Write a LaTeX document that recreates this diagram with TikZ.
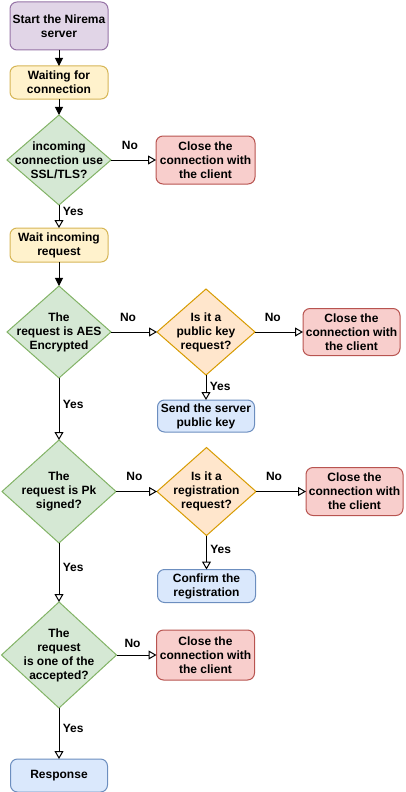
\documentclass[tikz,border=0pt]{standalone}
\usepackage{fontspec}
\setmainfont{Liberation Sans}
\usetikzlibrary{shapes.geometric,positioning,arrows.meta}

\definecolor{purplefill}{HTML}{E1D5E7}\definecolor{purpleline}{HTML}{9673A6}
\definecolor{yellowfill}{HTML}{FFF2CC}\definecolor{yellowline}{HTML}{D6B656}
\definecolor{greenfill}{HTML}{D5E8D4}\definecolor{greenline}{HTML}{82B366}
\definecolor{redfill}{HTML}{F8CECC}\definecolor{redline}{HTML}{B85450}
\definecolor{orangefill}{HTML}{FFE6CC}\definecolor{orangeline}{HTML}{D79B00}
\definecolor{bluefill}{HTML}{DAE8FC}\definecolor{blueline}{HTML}{6C8EBF}

\begin{document}
\begin{tikzpicture}
  [x=1pt, y=1pt, node distance=16pt,
    font=\fontsize{12}{14}\selectfont\bfseries, align=center,
    box/.style={
      rectangle, rounded corners=7pt, draw=#1line, fill=#1fill,
      line width=1pt, inner sep=0pt, outer sep=0pt,
      minimum width=98pt, minimum height=33pt
    },
    decision/.style={
      diamond, draw=#1line, fill=#1fill, line width=1pt,
      inner sep=0pt, outer sep=0pt
    },
    filled/.style={-{Triangle[length=8pt,width=8pt]}, line width=1pt},
    hollow/.style={-{Triangle[open,length=8pt,width=9pt]}, line width=1pt},
  ]
  \useasboundingbox (0,0) rectangle (405,-792);

  \node[box=purple, minimum height=48pt] (start) at (59,-26) {Start the Nirema\\server};
  \node[box=yellow] (wait) [below=16pt of start] {Waiting for\\connection};
  \node[decision=green, minimum width=104pt, minimum height=90pt,
    label={center:incoming\\connection use\\SSL/TLS?}] (ssl) [below=16pt of wait] {};
  \node[box=red, minimum width=99pt, minimum height=48pt] (close1) [right=45pt of ssl] {Close the\\connection with\\the client};

  \node[box=yellow, minimum height=34pt] (winc) [below=23pt of ssl] {Wait incoming\\request};
  \node[decision=green, minimum width=104pt, minimum height=92pt,
    label={center:The\\request is AES\\Encrypted}] (aes) [below=24pt of winc] {};
  \node[decision=orange, minimum width=98pt, minimum height=86pt,
    label={center:Is it a\\public key\\request?}] (pubkey) [right=46pt of aes] {};
  \node[box=red, minimum width=97pt, minimum height=47pt] (close2) [right=48pt of pubkey] {Close the\\connection with\\the client};
  \node[box=blue, minimum width=97pt, minimum height=32pt] (send) [below=25pt of pubkey] {Send the server\\public key};

  \node[decision=green, minimum width=114pt, minimum height=103pt,
    label={center:The\\request is Pk\\signed?}] (pk) [below=62pt of aes] {};
  \node[decision=orange, minimum width=99pt, minimum height=88pt,
    label={center:Is it a\\registration\\request?}] (reg) [right=41pt of pk] {};
  \node[box=red, minimum width=97pt, minimum height=48pt] (close3) [right=50pt of reg] {Close the\\connection with\\the client};
  \node[box=blue] (confirm) [below=34pt of reg] {Confirm the\\registration};

  \node[decision=green, minimum width=115pt, minimum height=106pt,
    label={center:The\\request\\is one of the\\accepted?}] (accepted) [below=59pt of pk] {};
  \node[box=red, minimum width=98pt, minimum height=50pt] (close4) [right=40pt of accepted] {Close the\\connection with\\the client};
  \node[box=blue, minimum width=97pt] (resp) [below=51pt of accepted] {Response};

  % Main line
  \path[filled]
  (start) edge (wait)
  (wait) edge (ssl)
  (winc) edge (aes);

  % Yes / No branches
  \path[hollow]
  (ssl) edge node [above=7pt, pos=0.42] {No} (close1)
        edge node [right, pos=0.3] {Yes} (winc)
  (aes) edge node [above=7pt, pos=0.37] {No} (pubkey)
        edge node [right, pos=0.43] {Yes} (pk)
  (pubkey) edge node [above=7pt, pos=0.37] {No} (close2)
           edge node [right, pos=0.44] {Yes} (send)
  (pk) edge node [above=7pt, pos=0.45] {No} (reg)
       edge node [right, pos=0.42] {Yes} (accepted)
  (reg) edge node [above=7pt, pos=0.36] {No} (close3)
        edge node [right, pos=0.41] {Yes} (confirm)
  (accepted) edge node [above=4pt, pos=0.4] {No} (close4)
             edge node [right, pos=0.4] {Yes} (resp);
\end{tikzpicture}
\end{document}
